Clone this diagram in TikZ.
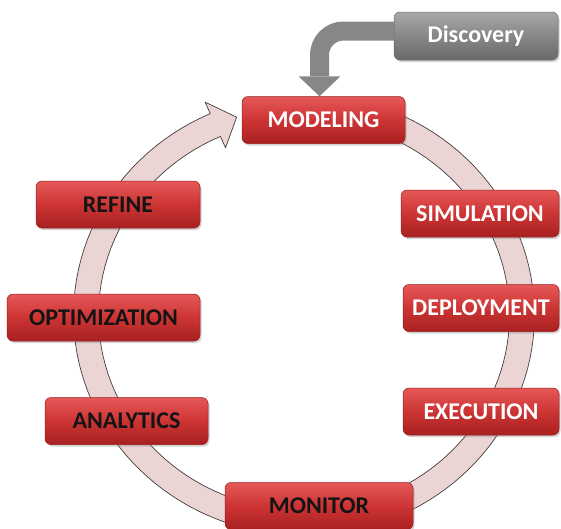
\documentclass[tikz,border=0pt]{standalone}
\usepackage{fontspec}
\setmainfont{Carlito}
\usetikzlibrary{shadows}
\definecolor{hongvong}{RGB}{234,212,212}
\definecolor{vienvong}{RGB}{70,60,60}
\definecolor{do1}{RGB}{230,88,88}
\definecolor{do2}{RGB}{205,52,52}
\definecolor{do3}{RGB}{168,32,32}
\definecolor{viendo}{RGB}{150,30,30}
\definecolor{xam1}{RGB}{168,168,168}
\definecolor{xam2}{RGB}{135,135,135}
\definecolor{xam3}{RGB}{105,105,105}
\definecolor{chuden}{RGB}{20,20,20}
\begin{document}
\begin{tikzpicture}[x=1pt,y=-1pt,line join=round,
	hop/.style={rounded corners=6pt,draw=viendo,line width=.5pt,
		top color=do1,bottom color=do3,middle color=do2,
		minimum height=47pt,inner sep=0pt,
		font=\fontsize{24}{28}\selectfont\bfseries,
		drop shadow={shadow xshift=1.5pt,shadow yshift=-2pt,opacity=.35}},
	hopxam/.style={hop,draw=xam3,top color=xam1,bottom color=xam3,middle color=xam2},
	vong/.style={fill=hongvong,draw=vienvong,line width=.7pt}]
	\useasboundingbox (0,0) rectangle (561,528);
	\def\tamx{304} % tâm vòng, x
	\def\tamy{315} % tâm vòng, y
	\def\bkx{218} % bán kính ngang
	\def\bky{208} % bán kính dọc
	\def\dau{246} % góc gốc mũi tên
	% vòng tròn có mũi tên
	\draw[vong] plot[domain=-75:\dau,samples=120] ({\tamx+(\bkx+12.5)*cos(\x)},{\tamy+(\bky+12.5)*sin(\x)})
		-- ({\tamx+(\bkx+25)*cos(\dau)},{\tamy+(\bky+25)*sin(\dau)})
		-- ({\tamx+\bkx*cos(252)},{\tamy+\bky*sin(252)})
		-- ({\tamx+(\bkx-25)*cos(\dau)},{\tamy+(\bky-25)*sin(\dau)})
		-- plot[domain=\dau:-75,samples=120] ({\tamx+(\bkx-12.5)*cos(\x)},{\tamy+(\bky-12.5)*sin(\x)})
		-- cycle;
	\foreach \ten/\x/\y/\w/\chu in {M/323.5/120/163/MODELING,S/480/213.5/158/SIMULATION,
		DEP/481/308/156/DEPLOYMENT,EXE/481/411.5/156/EXECUTION}
		\node[hop,text=white,minimum width=\w pt] (\ten) at (\x,\y) {\chu};
	\foreach \ten/\x/\y/\w/\chu in {MON/319/506/188/MONITOR,ANA/126.5/421/163/ANALYTICS,
		OPT/103.5/317.5/193/OPTIMIZATION,REF/118/204.5/164/REFINE}
		\node[hop,text=chuden,minimum width=\w pt] (\ten) at (\x,\y) {\chu};
	\node[hopxam,text=white,minimum width=164pt,minimum height=48pt] (D) at (476,36) {Discovery};
	% mũi tên xám
	\draw[xam2,line width=19pt,rounded corners=24pt] ([yshift=5pt]D.west) -| ([xshift=-4pt,yshift=20pt]M.north);
	\fill[xam2] ([xshift=-25pt,yshift=20pt]M.north) -- ([xshift=17pt,yshift=20pt]M.north) -- ([xshift=-4pt]M.north) -- cycle;
\end{tikzpicture}
\end{document}
